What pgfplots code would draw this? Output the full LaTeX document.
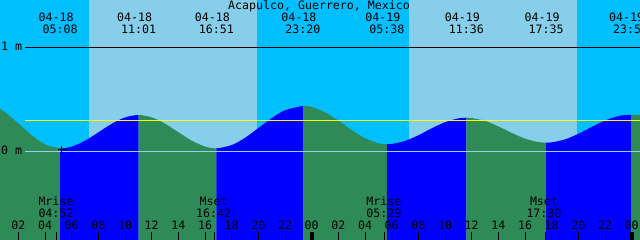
\documentclass[border=0pt]{standalone}
\usepackage{fontspec}
\usepackage{pgfplots}
\pgfplotsset{compat=1.18}
\usepgfplotslibrary{fillbetween}
\newfontfamily\mono{DejaVu Sans Mono}
\newcommand\tf{\mono\fontsize{11.6pt}{13pt}\selectfont}
\definecolor{nightc}{RGB}{0,191,255}
\definecolor{dayc}{RGB}{135,206,235}
\definecolor{risec}{RGB}{0,0,255}
\definecolor{fallc}{RGB}{46,139,87}
\definecolor{zeroc}{RGB}{150,210,235}
\definecolor{msl}{RGB}{255,255,0}
\pgfplotstableread{
h m
0.5 0.420
1 0.377
2 0.269
3 0.155
4 0.067
5.133 0.029
6 0.046
7 0.102
8 0.183
9 0.265
10 0.327
11.017 0.350
12 0.328
13 0.267
14 0.184
15 0.103
16 0.046
16.85 0.029
18 0.060
19 0.130
20 0.224
21 0.320
22 0.396
23.333 0.437
24 0.427
25 0.377
26 0.296
27 0.205
28 0.126
29 0.077
29.633 0.068
30 0.070
31 0.100
32 0.155
33 0.222
34 0.281
35 0.318
35.6 0.324
36 0.321
37 0.293
38 0.240
39 0.178
40 0.122
41 0.089
41.583 0.083
42 0.086
43 0.115
44 0.169
45 0.235
46 0.297
47 0.340
47.97 0.353
48.8 0.346
}\tide
\begin{document}
\begin{tikzpicture}
\begin{axis}[
 width=640pt, height=240pt, scale only axis,
 xmin=0.6225, xmax=48.6225, ymin=-0.8562, ymax=1.4604,
 axis line style={draw=none},
 ytick=\empty,
 xtick={2,4,4.87,6,8,10,12,14,16,16.7,18,20,22,24,26,28,29.48,30,32,34,36,38,40,41.5,42,44,46,48},
 xticklabels={02,04,,06,08,10,12,14,16,,18,20,22,00,02,04,,06,08,10,12,14,16,,18,20,22,00},
 xtick pos=left, tick align=inside, major tick length=8.3pt,
 tick style={black, line width=1pt},
 xticklabel style={font=\tf, anchor=base, yshift=10.7pt, inner sep=0pt},
 extra x ticks={24,48}, extra x tick labels={},
 extra x tick style={tick style={line width=3.6pt}},
 axis on top,
 fill between/on layer=main,
]
% day / night
\addplot[fill=nightc, draw=none] coordinates {(0,-1) (0,2) (7.30,2) (7.30,-1)} -- cycle;
\addplot[fill=dayc, draw=none] coordinates {(7.30,-1) (7.30,2) (19.90,2) (19.90,-1)} -- cycle;
\addplot[fill=nightc, draw=none] coordinates {(19.90,-1) (19.90,2) (31.30,2) (31.30,-1)} -- cycle;
\addplot[fill=dayc, draw=none] coordinates {(31.30,-1) (31.30,2) (43.88,2) (43.88,-1)} -- cycle;
\addplot[fill=nightc, draw=none] coordinates {(43.88,-1) (43.88,2) (49,2) (49,-1)} -- cycle;
% tide
\addplot[name path=tide, draw=none, smooth] table[x=h, y=m] {\tide};
\addplot[name path=bot, draw=none] coordinates {(0,-1) (49,-1)};
\addplot[fallc] fill between[of=tide and bot, soft clip={domain=0:5.133}];
\addplot[risec] fill between[of=tide and bot, soft clip={domain=5.133:11.017}];
\addplot[fallc] fill between[of=tide and bot, soft clip={domain=11.017:16.85}];
\addplot[risec] fill between[of=tide and bot, soft clip={domain=16.85:23.333}];
\addplot[fallc] fill between[of=tide and bot, soft clip={domain=23.333:29.633}];
\addplot[risec] fill between[of=tide and bot, soft clip={domain=29.633:35.6}];
\addplot[fallc] fill between[of=tide and bot, soft clip={domain=35.6:41.583}];
\addplot[risec] fill between[of=tide and bot, soft clip={domain=41.583:47.97}];
\addplot[fallc] fill between[of=tide and bot, soft clip={domain=47.97:49}];
% level lines
\addplot[black, line width=1pt] coordinates {(2.4975,1) (49,1)};
\addplot[zeroc, line width=1pt] coordinates {(2.4975,0) (49,0)};
\addplot[msl, line width=1pt] coordinates {(2.4975,0.299) (49,0.299)};
\addplot[only marks, mark=+, mark size=4pt, line width=1pt, black] coordinates {(5.27,0.013)};
% texts
\node[font=\tf, anchor=base, inner sep=0pt] at (axis cs:24.55,1.3707) {Acapulco, Guerrero, Mexico};
\node[font=\tf, anchor=base west, inner sep=0pt] at (axis cs:0.70,0.971) {1 m};
\node[font=\tf, anchor=base west, inner sep=0pt] at (axis cs:0.70,-0.029) {0 m};
\node[font=\tf, anchor=base, inner sep=0pt] at (axis cs:4.833,1.251) {04-18};
\node[font=\tf, anchor=base, inner sep=0pt] at (axis cs:5.133,1.139) {05:08};
\node[font=\tf, anchor=base, inner sep=0pt] at (axis cs:10.717,1.251) {04-18};
\node[font=\tf, anchor=base, inner sep=0pt] at (axis cs:11.017,1.139) {11:01};
\node[font=\tf, anchor=base, inner sep=0pt] at (axis cs:16.55,1.251) {04-18};
\node[font=\tf, anchor=base, inner sep=0pt] at (axis cs:16.85,1.139) {16:51};
\node[font=\tf, anchor=base, inner sep=0pt] at (axis cs:23.033,1.251) {04-18};
\node[font=\tf, anchor=base, inner sep=0pt] at (axis cs:23.333,1.139) {23:20};
\node[font=\tf, anchor=base, inner sep=0pt] at (axis cs:29.333,1.251) {04-19};
\node[font=\tf, anchor=base, inner sep=0pt] at (axis cs:29.633,1.139) {05:38};
\node[font=\tf, anchor=base, inner sep=0pt] at (axis cs:35.3,1.251) {04-19};
\node[font=\tf, anchor=base, inner sep=0pt] at (axis cs:35.6,1.139) {11:36};
\node[font=\tf, anchor=base, inner sep=0pt] at (axis cs:41.283,1.251) {04-19};
\node[font=\tf, anchor=base, inner sep=0pt] at (axis cs:41.583,1.139) {17:35};
\node[font=\tf, anchor=base, inner sep=0pt] at (axis cs:47.62,1.251) {04-19};
\node[font=\tf, anchor=base, inner sep=0pt] at (axis cs:47.92,1.139) {23:55};
\node[font=\tf, anchor=base, inner sep=0pt] at (axis cs:4.82,-0.528) {Mrise};
\node[font=\tf, anchor=base, inner sep=0pt] at (axis cs:4.82,-0.637) {04:52};
\node[font=\tf, anchor=base, inner sep=0pt] at (axis cs:16.65,-0.528) {Mset};
\node[font=\tf, anchor=base, inner sep=0pt] at (axis cs:16.65,-0.637) {16:42};
\node[font=\tf, anchor=base, inner sep=0pt] at (axis cs:29.41,-0.528) {Mrise};
\node[font=\tf, anchor=base, inner sep=0pt] at (axis cs:29.41,-0.637) {05:29};
\node[font=\tf, anchor=base, inner sep=0pt] at (axis cs:41.42,-0.528) {Mset};
\node[font=\tf, anchor=base, inner sep=0pt] at (axis cs:41.42,-0.637) {17:30};
\end{axis}
\pgfresetboundingbox
\path[use as bounding box] (current axis.south west) rectangle (current axis.north east);
\end{tikzpicture}
\end{document}
